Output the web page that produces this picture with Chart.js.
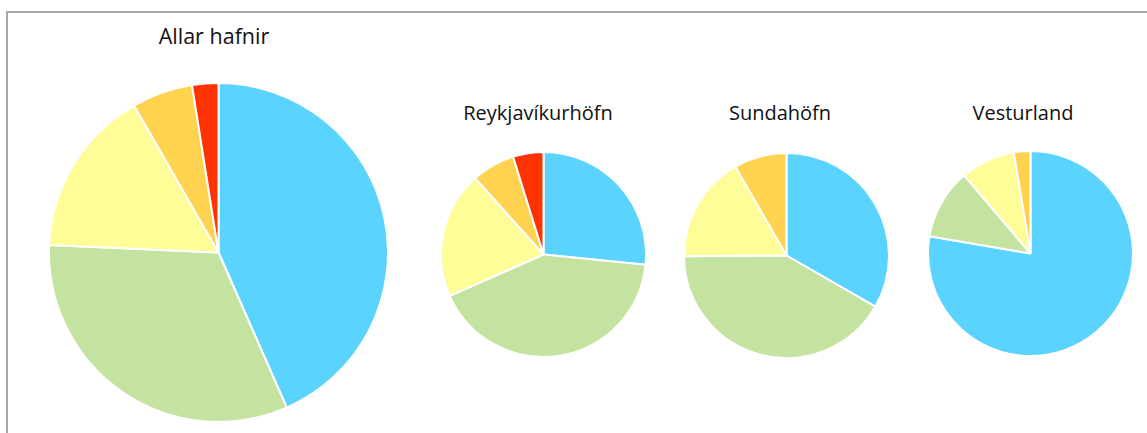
<!DOCTYPE html>
<html>
<head>
<meta charset="utf-8">
<script src="https://cdn.jsdelivr.net/npm/chart.js@4.4.1/dist/chart.umd.min.js"></script>
<style>
    html, body { margin: 0; padding: 0; background: #fff; }
    body { width: 1147px; height: 433px; position: relative; overflow: hidden; font-family: 'Open Sans', 'Noto Sans', sans-serif; }
    .frame { position: absolute; left: 6px; top: 11px; right: -4px; bottom: -4px; border-left: 2px solid #a8a8a8; border-top: 2px solid #a8a8a8; }
    .title { position: absolute; color: #111; white-space: nowrap; transform: translateX(-50%); line-height: 1; }
    .pie { position: absolute; }
</style>
</head>
<body>
<div class="frame"></div>

<div class="title" style="left:214px; top:25px; font-size:21.5px;">Allar hafnir</div>
<div class="title" style="left:538px; top:103px; font-size:20px;">Reykjavíkurhöfn</div>
<div class="title" style="left:780px; top:103px; font-size:20px;">Sundahöfn</div>
<div class="title" style="left:1023px; top:103px; font-size:20px;">Vesturland</div>

<div class="pie" style="left:48px; top:82px; width:341px; height:341px;"><canvas id="pieAll"></canvas></div>
<div class="pie" style="left:440px; top:151px; width:207px; height:207px;"><canvas id="pieReykjavik"></canvas></div>
<div class="pie" style="left:683px; top:152px; width:207px; height:207px;"><canvas id="pieSunda"></canvas></div>
<div class="pie" style="left:927px; top:150px; width:207px; height:207px;"><canvas id="pieVestur"></canvas></div>

<script>
// categories (no legend shown in the original)
const categories = ['Flokkur 1', 'Flokkur 2', 'Flokkur 3', 'Flokkur 4', 'Flokkur 5'];
const sliceColors = ['#5BD3FF', '#C5E3A0', '#FFFD98', '#FFD24F', '#FF3300'];

// shares in percent, read clockwise from the top
const allarHafnir = [43.4, 32.3, 16.0, 5.8, 2.5];
const reykjavikurhofn = [26.6, 41.8, 20.0, 6.8, 4.8];
const sundahofn = [33.3, 41.6, 16.8, 8.3, 0];
const vesturland = [77.7, 11.1, 8.6, 2.6, 0];

function renderPie(canvasId, values) {
    const ctx = document.getElementById(canvasId).getContext('2d');
    new Chart(ctx, {
        type: 'pie',
        data: {
            labels: categories,
            datasets: [{
                data: values,
                backgroundColor: sliceColors,
                borderColor: '#ffffff',
                borderWidth: 2
            }]
        },
        options: {
            responsive: true,
            maintainAspectRatio: false,
            animation: false,
            layout: { padding: 0 },
            plugins: {
                legend: { display: false },
                title: { display: false },
                tooltip: { enabled: false }
            }
        }
    });
}

renderPie('pieAll', allarHafnir);
renderPie('pieReykjavik', reykjavikurhofn);
renderPie('pieSunda', sundahofn);
renderPie('pieVestur', vesturland);
</script>
</body>
</html>
